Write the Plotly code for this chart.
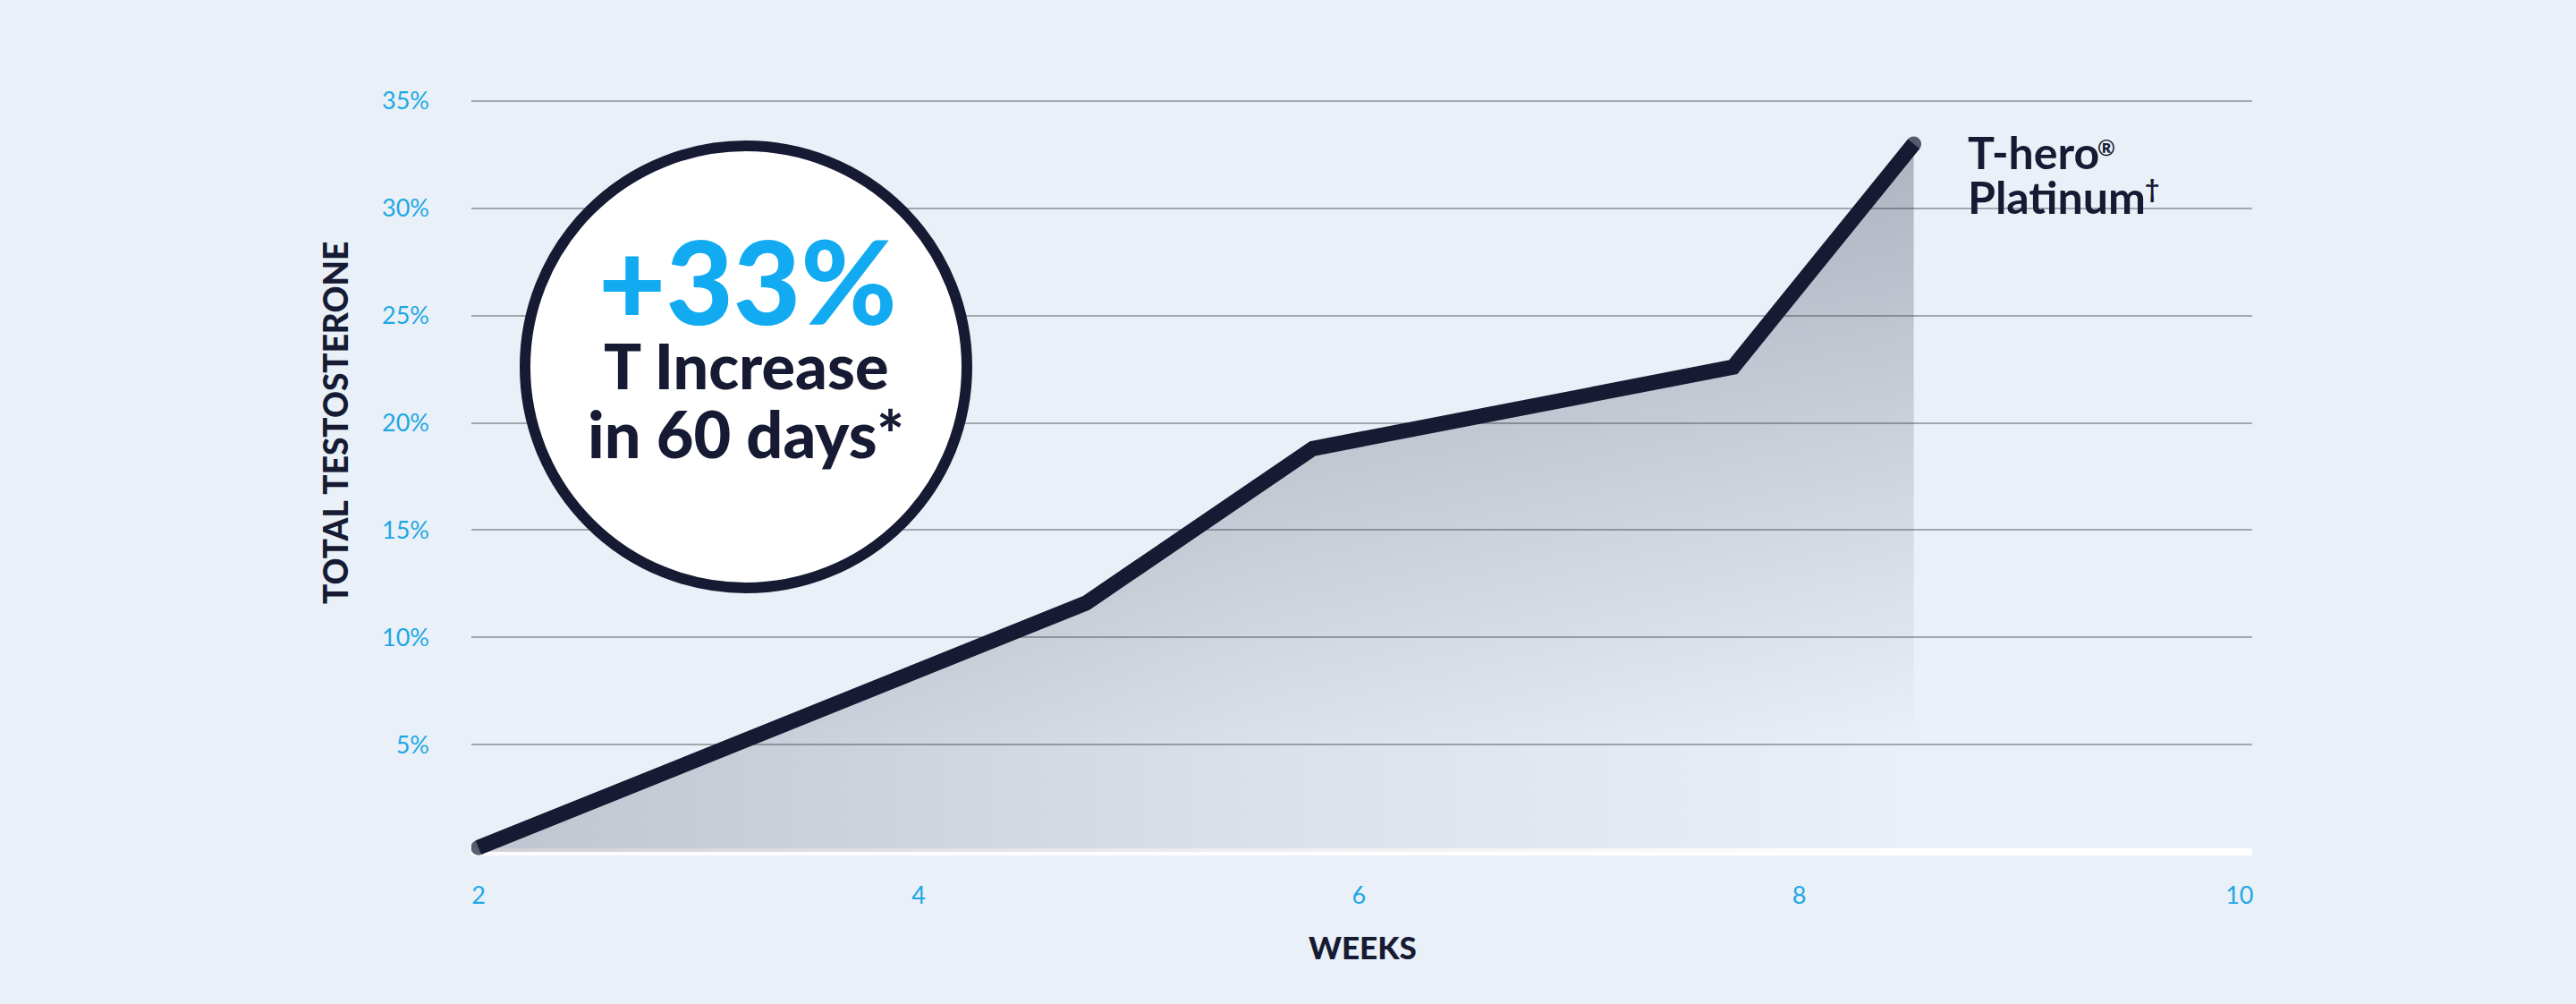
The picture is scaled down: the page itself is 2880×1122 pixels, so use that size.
import plotly.graph_objects as go

# ---------------- data ----------------
weeks = [2.0, 4.76, 5.79, 7.70, 8.52]
testosterone_pct = [0.2, 11.6, 18.8, 22.6, 33.0]

y_ticks = [5, 10, 15, 20, 25, 30, 35]
y_tick_labels = ["5%", "10%", "15%", "20%", "25%", "30%", "35%"]
x_ticks = [2, 4, 6, 8, 10]
x_tick_labels = ["2", "4", "6", "8", "10"]

# ---------------- style ----------------
BG = "#e9f0f7"
NAVY = "#161b33"
BLUE = "#1ea7e6"
HEAD_BLUE = "#12abf2"
GRID = "#a2a7af"
FONT = "Lato"

W, H = 2880, 1122
ML, MR, MT, MB = 527, 362, 100, 162
PW, PH = W - ML - MR, H - MT - MB


def px_to_paper(px, py):
    return (px - ML) / PW, (H - MB - py) / PH


fig = go.Figure()

# horizontal gradient layer of the area
fig.add_trace(go.Scatter(
    x=weeks, y=testosterone_pct, mode="none", fill="tozeroy",
    fillgradient=dict(type="horizontal",
                      colorscale=[[0, "rgba(22,27,51,0.20)"],
                                  [0.55, "rgba(22,27,51,0.07)"],
                                  [1, "rgba(22,27,51,0.0)"]],
                      start=min(weeks), stop=max(weeks)),
    hoverinfo="skip", showlegend=False))

# vertical gradient layer of the area
fig.add_trace(go.Scatter(
    x=weeks, y=testosterone_pct, mode="none", fill="tozeroy",
    fillgradient=dict(type="vertical",
                      colorscale=[[0, "rgba(22,27,51,0.0)"],
                                  [0.15, "rgba(22,27,51,0.0)"],
                                  [1, "rgba(22,27,51,0.28)"]],
                      start=0, stop=max(testosterone_pct)),
    hoverinfo="skip", showlegend=False))

# main line
end_sizes = [17 if i in (0, len(weeks) - 1) else 0 for i in range(len(weeks))]
fig.add_trace(go.Scatter(
    x=weeks, y=testosterone_pct, mode="lines+markers",
    line=dict(color=NAVY, width=17),
    marker=dict(color=NAVY, size=end_sizes, line=dict(width=0)),
    hoverinfo="skip", showlegend=False))

# circle badge
cx, cy, r = 834, 410, 247
x0, y1 = px_to_paper(cx - r, cy - r)
x1, y0 = px_to_paper(cx + r, cy + r)
fig.add_shape(type="circle", xref="paper", yref="paper",
              x0=x0, x1=x1, y0=y0, y1=y1,
              line=dict(color=NAVY, width=12), fillcolor="white",
              layer="above")

annots = []


def add_text(text, px, py, size, color, weight=700, xanchor="center",
             textangle=0):
    xp, yp = px_to_paper(px, py)
    annots.append(dict(text=text, x=xp, y=yp, xref="paper", yref="paper",
                       xanchor=xanchor, yanchor="middle", showarrow=False,
                       textangle=textangle,
                       font=dict(family=FONT, size=size, color=color,
                                 weight=weight)))


add_text("+33%", 836, 313, 130, HEAD_BLUE, weight=900)
add_text("T Increase", 834, 408, 70, NAVY, weight=900)
add_text("in 60 days*", 834, 484, 72, NAVY, weight=900)

add_text("T-hero", 2198, 170, 50, NAVY, weight=700, xanchor="left")
add_text("®", 2343, 164, 24, NAVY, weight=700, xanchor="left")
add_text("Platinum", 2198, 220, 50, NAVY, weight=700, xanchor="left")
add_text("†", 2396, 210, 28, NAVY, weight=700, xanchor="left")

add_text("TOTAL TESTOSTERONE", 375, 473, 37, NAVY, weight=900, textangle=-90)
add_text("WEEKS", 1523, 1058, 35, NAVY, weight=900)

fig.update_layout(
    width=W, height=H,
    margin=dict(l=ML, r=MR, t=MT, b=MB),
    paper_bgcolor=BG, plot_bgcolor=BG,
    showlegend=False,
    annotations=annots,
    xaxis=dict(range=[1.9675, 10.0576], tickvals=x_ticks, ticktext=x_tick_labels,
               showgrid=False, zeroline=False, showline=False, ticks="",
               ticklabelstandoff=22,
               tickfont=dict(family=FONT, size=27, color=BLUE), fixedrange=True),
    yaxis=dict(range=[-0.334, 35.54], tickvals=y_ticks, ticktext=y_tick_labels,
               showgrid=True, gridcolor=GRID, gridwidth=2,
               zeroline=True, zerolinecolor="white", zerolinewidth=8,
               showline=False, ticks="", ticklabelstandoff=46,
               tickfont=dict(family=FONT, size=27, color=BLUE), fixedrange=True),
)

fig.write_html(
    "out.html",
    config={"displayModeBar": False},
    post_script="document.body.style.margin='0';"
                "document.body.style.background='" + BG + "';"
                "document.documentElement.style.background='" + BG + "';",
)
